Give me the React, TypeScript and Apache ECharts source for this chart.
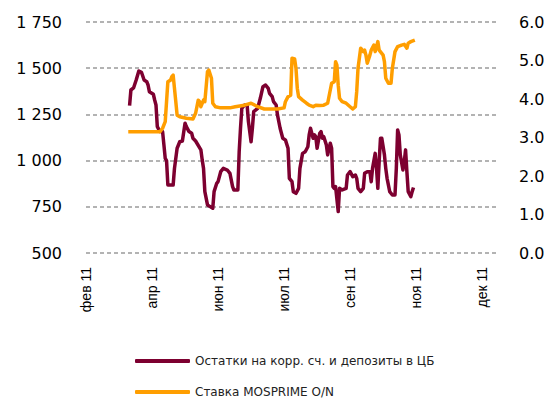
import React, { useEffect, useRef } from 'react';
import * as echarts from 'echarts';

// X axis: days counted from the first tick ("фев 11"), ticks every 50 days
const xTickLabels = ['фев 11', 'апр 11', 'июн 11', 'июл 11', 'сен 11', 'ноя 11', 'дек 11'];
const xTickStep = 50;
const xMaxDay = 312;

const seriesNames = ['Остатки на корр. сч. и депозиты в ЦБ', 'Ставка MOSPRIME O/N'];

// Balances on correspondent accounts and deposits at the CB (left axis)
const balanceDays = [
  33, 34, 36, 38, 40, 42, 44, 46, 47, 48, 51, 52, 53, 54, 56, 58, 59, 60, 61, 62,
  66, 67, 69, 71, 73, 75, 76, 78, 80, 81, 83, 87, 88, 89, 90, 92, 94, 96, 97, 99,
  100, 102, 104, 107, 109, 111, 112, 115, 116, 117, 118, 120, 122, 123, 125, 126, 127, 130, 132, 134,
  136, 138, 139, 141, 142, 144, 145, 147, 149, 151, 153, 154, 156, 157, 159, 161, 162, 164, 166, 168,
  169, 170, 172, 173, 174, 175, 177, 178, 179, 180, 182, 183, 185, 186, 187, 188, 189, 191, 192, 194,
  197, 198, 200, 202, 204, 205, 206, 208, 210, 211, 213, 215, 216, 217, 219, 220, 221, 222, 223, 224,
  226, 227, 228, 230, 232, 234, 235, 236, 237, 238, 240, 241, 242, 243, 244, 246, 247, 248,
];
const balanceValues = [
  1297, 1382, 1393, 1436, 1485, 1478, 1436, 1427, 1409, 1373, 1359, 1328, 1301, 1184, 1157, 1157, 1085, 1012, 1000, 868,
  868, 958, 1067, 1102, 1106, 1202, 1184, 1157, 1148, 1121, 1106, 1058, 1004, 958, 832, 760, 751, 742, 832, 877,
  886, 940, 958, 949, 931, 859, 841, 841, 1048, 1175, 1283, 1301, 1301, 1211, 1102, 1175, 1265, 1283, 1337, 1400,
  1409, 1391, 1364, 1346, 1319, 1301, 1247, 1175, 1121, 1112, 1067, 904, 886, 832, 823, 850, 958, 1039, 1048, 1075,
  1139, 1175, 1121, 1139, 1130, 1067, 1148, 1157, 1121, 1130, 1085, 1031, 1094, 1067, 859, 850, 859, 724, 850, 841,
  850, 922, 940, 913, 922, 904, 850, 832, 850, 931, 940, 940, 886, 958, 1039, 958, 850, 994, 1121, 1121,
  1031, 958, 904, 832, 814, 814, 958, 1166, 1139, 1031, 949, 994, 1058, 940, 832, 805, 832, 854,
];

// MOSPRIME O/N rate (right axis)
const rateDays = [
  32, 56, 58, 60, 61, 62, 64, 65, 66, 68, 69, 71, 76, 81, 83, 85, 86, 87, 89, 90,
  92, 93, 95, 96, 98, 102, 109, 113, 120, 125, 130, 135, 145, 150, 151, 153, 155, 156, 158, 159,
  160, 161, 164, 167, 169, 172, 174, 177, 180, 183, 186, 188, 189, 190, 191, 192, 194, 197, 200, 202,
  204, 205, 206, 208, 210, 211, 212, 213, 215, 216, 218, 219, 221, 222, 225, 226, 227, 229, 231, 232,
  234, 236, 239, 241, 243, 244, 246, 249,
];
const rateValues = [
  3.15, 3.15, 3.24, 3.41, 3.93, 4.45, 4.49, 4.58, 4.62, 3.93, 3.58, 3.54, 3.50, 3.48, 3.63, 3.97, 3.93, 3.80, 3.97, 3.93,
  4.71, 4.75, 4.54, 3.89, 3.80, 3.77, 3.77, 3.80, 3.84, 3.89, 3.80, 3.74, 3.74, 3.77, 3.93, 4.06, 4.10, 5.06, 5.04, 4.80,
  4.28, 4.06, 3.97, 3.89, 3.84, 3.80, 3.84, 3.83, 3.84, 3.89, 4.41, 4.45, 4.97, 4.88, 4.36, 4.02, 3.93, 3.89, 3.80, 3.74,
  3.80, 4.19, 4.80, 5.32, 5.23, 5.27, 5.14, 4.93, 5.14, 5.27, 5.40, 5.23, 5.49, 5.27, 5.14, 4.97, 4.54, 4.41, 4.41, 4.80,
  5.23, 5.36, 5.40, 5.42, 5.32, 5.45, 5.49, 5.53,
];

const MAROON = '#7d0030';
const ORANGE = '#ff9e00';

function formatThousands(v: number): string {
  if (v >= 1000) {
    const th = Math.floor(v / 1000);
    const rest = String(v % 1000).padStart(3, '0');
    return th + ' ' + rest;
  }
  return String(v);
}

export default function App() {
  const ref = useRef<HTMLDivElement>(null);
  useEffect(() => {
    if (!ref.current) return;
    const chart = echarts.init(ref.current, null, { renderer: 'svg' });
    const gridDash = { color: '#9a9a9a', width: 1.5, type: [4, 3] as number[] };
    const legendBase = {
      orient: 'horizontal',
      left: 135,
      padding: 0,
      itemWidth: 55,
      itemHeight: 4,
      icon: 'roundRect',
      textStyle: { fontFamily: 'DejaVu Sans', fontSize: 12, color: '#222' },
    };
    chart.setOption({
      animation: false,
      backgroundColor: '#ffffff',
      grid: { left: 86, right: 54, top: 22, bottom: 149, containLabel: false },
      legend: [
        { ...legendBase, top: 355, data: [seriesNames[0]] },
        { ...legendBase, top: 386, data: [seriesNames[1]] },
      ],
      xAxis: {
        type: 'value',
        min: 0,
        max: xMaxDay,
        interval: xTickStep,
        axisLine: { show: false },
        axisTick: { show: false },
        splitLine: { show: false },
        axisLabel: {
          rotate: 90,
          margin: 14,
          fontFamily: 'Liberation Sans',
          fontSize: 14,
          color: '#000',
          showMaxLabel: false,
          formatter: (v: number) => (v % xTickStep === 0 && xTickLabels[v / xTickStep]) || '',
        },
      },
      yAxis: [
        {
          type: 'value',
          min: 500,
          max: 1750,
          interval: 250,
          axisLine: { show: false },
          axisTick: { show: false },
          splitLine: { show: true, lineStyle: gridDash },
          axisLabel: {
            margin: 24,
            fontFamily: 'DejaVu Sans',
            fontSize: 16,
            color: '#000',
            formatter: (v: number) => formatThousands(v),
          },
        },
        {
          type: 'value',
          min: 0,
          max: 6,
          interval: 1,
          axisLine: { show: false },
          axisTick: { show: false },
          splitLine: { show: false },
          axisLabel: {
            margin: 21,
            fontFamily: 'DejaVu Sans',
            fontSize: 16,
            color: '#000',
            formatter: (v: number) => v.toFixed(1),
          },
        },
      ],
      series: [
        {
          name: seriesNames[0],
          type: 'line',
          yAxisIndex: 0,
          showSymbol: false,
          symbol: 'none',
          color: MAROON,
          lineStyle: { color: MAROON, width: 3.5, join: 'round' },
          data: balanceDays.map((d, i) => [d, balanceValues[i]]),
        },
        {
          name: seriesNames[1],
          type: 'line',
          yAxisIndex: 1,
          showSymbol: false,
          symbol: 'none',
          color: ORANGE,
          lineStyle: { color: ORANGE, width: 3.5, join: 'round' },
          data: rateDays.map((d, i) => [d, rateValues[i]]),
        },
      ],
    });
    return () => chart.dispose();
  }, []);
  return (
    <div
      ref={ref}
      style={{ position: 'fixed', left: 0, top: 0, width: 552, height: 402 }}
    />
  );
}
